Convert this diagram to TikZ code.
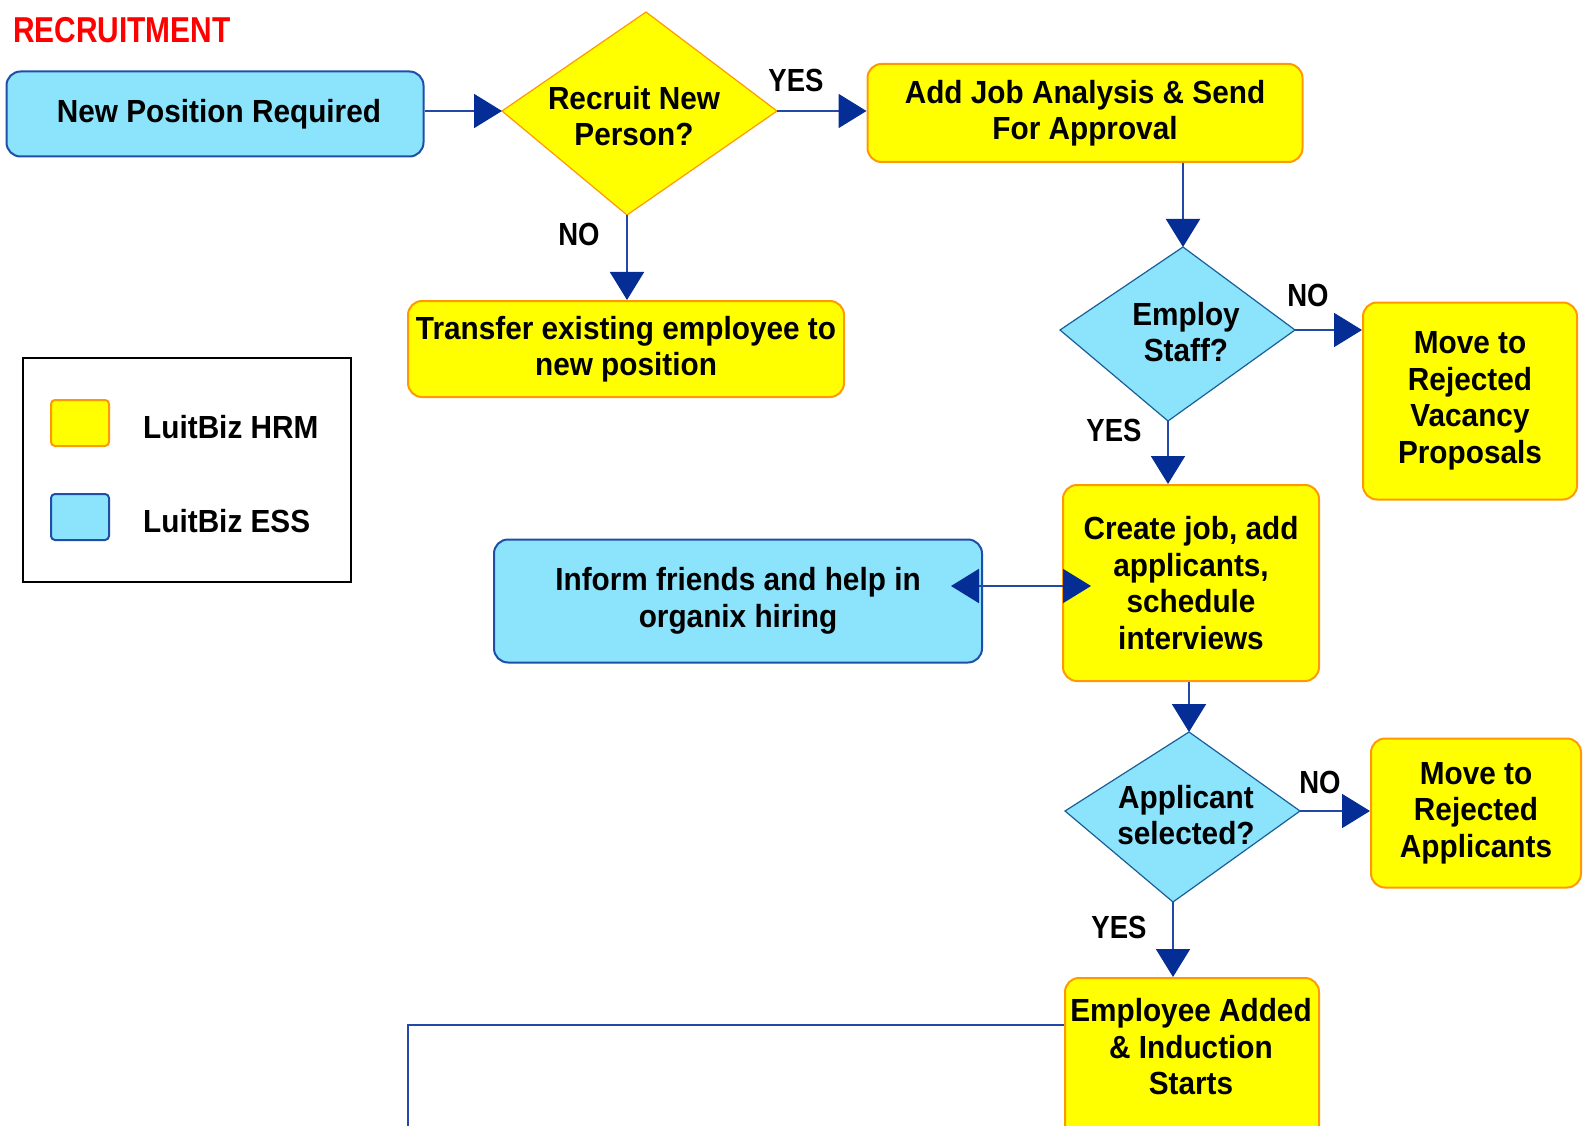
\documentclass[tikz,border=0pt]{standalone}
\usepackage{fontspec}
\setmainfont{Liberation Sans}[FakeStretch=0.93]
\newfontfamily\titlefont{Liberation Sans}[FakeStretch=0.83]
\newfontfamily\answerfont{Liberation Sans}[FakeStretch=0.86]
\usetikzlibrary{arrows.meta,calc}
\definecolor{hrmfill}{RGB}{255,255,0}
\definecolor{hrmline}{RGB}{255,153,0}
\definecolor{essfill}{RGB}{140,227,252}
\definecolor{essline}{RGB}{30,78,168}
\definecolor{decline}{RGB}{25,95,150}
\definecolor{flowline}{RGB}{35,72,168}
\definecolor{flowhead}{RGB}{5,45,150}
\tikzset{
  hrm/.style={draw=hrmline,fill=hrmfill,line width=2pt,rounded corners=14pt,align=center,inner sep=0pt},
  ess/.style={draw=essline,fill=essfill,line width=2pt,rounded corners=14pt,align=center,inner sep=0pt},
  hrmdec/.style={draw=hrmline,fill=hrmfill,line width=1.2pt},
  essdec/.style={draw=decline,fill=essfill,line width=1.2pt},
  flowtip/.tip={Triangle[length=28pt,width=34pt,color=flowhead]},
  flow/.style={draw=flowline,line width=2pt,-flowtip},
  dflow/.style={draw=flowline,line width=2pt,flowtip-flowtip},
  answer/.style={font=\answerfont\bfseries\fontsize{32}{36}\selectfont},
}
\begin{document}
\begin{tikzpicture}[x=1pt,y=-1pt,font=\bfseries\fontsize{32}{36.5}\selectfont]
  \useasboundingbox (0,0) rectangle (1583,1126);
  \clip (0,0) rectangle (1583,1126);
  \node[anchor=base west,inner sep=0pt,text=red,font=\titlefont\bfseries\fontsize{36}{40}\selectfont] (title) at (13,43) {RECRUITMENT};

  % boxes
  \node[ess,minimum width=417pt,minimum height=85pt] (np) at (215,114) {\hspace*{8pt}New Position Required};
  \node[hrm,minimum width=435pt,minimum height=98pt] (aj) at (1085,113) {Add Job Analysis \& Send\\For Approval};
  \node[hrm,minimum width=436pt,minimum height=96pt] (tf) at (626,349) {Transfer existing employee to\\new position};
  \node[hrm,minimum width=214pt,minimum height=197pt] (mv) at (1470,401) {Move to\\Rejected\\Vacancy\\Proposals};
  \node[ess,minimum width=488pt,minimum height=123pt] (inf) at (738,601) {Inform friends and help in\\organix hiring};
  \node[hrm,minimum width=256pt,minimum height=196pt] (cj) at (1191,583) {Create job, add\\applicants,\\schedule\\interviews};
  \node[hrm,minimum width=210pt,minimum height=149pt] (ra) at (1476,813) {Move to\\Rejected\\Applicants};
  \node[hrm,minimum width=254pt,minimum height=180pt,anchor=north] (ea) at (1192,977) {};
  \node[align=center,inner sep=0pt] (eatext) at (1191,1047) {Employee Added\\\& Induction\\Starts};

  % decisions
  \filldraw[hrmdec] (502,111) coordinate (rn-w) -- (646,12) coordinate (rn-n)
    -- (777,111) coordinate (rn-e) -- (627,215) coordinate (rn-s) -- cycle;
  \node[align=center,inner sep=0pt] (rn) at (634,116) {Recruit New\\Person?};
  \filldraw[essdec] (1060,330) coordinate (es-w) -- (1183,247) coordinate (es-n)
    -- (1295,330) coordinate (es-e) -- (1168,421) coordinate (es-s) -- cycle;
  \node[align=center,inner sep=0pt] (es) at (1186,332) {Employ\\Staff?};
  \filldraw[essdec] (1065,811) coordinate (ap-w) -- (1189,732) coordinate (ap-n)
    -- (1300,811) coordinate (ap-e) -- (1173,902) coordinate (ap-s) -- cycle;
  \node[align=center,inner sep=0pt] (ap) at (1186,815) {Applicant\\selected?};

  % connectors
  \draw[flow] (np.east |- rn-w) -- (rn-w);
  \draw[flow] (rn-e) -- (rn-e -| aj.west);
  \draw[flow] (rn-s) -- (rn-s |- tf.north);
  \draw[flow] (es-n |- aj.south) -- (es-n);
  \draw[flow] (es-e) -- (es-e -| mv.west);
  \draw[flow] (es-s) -- (es-s |- cj.north);
  \draw[dflow] ($(inf.east |- cj.west)+(-32,3)$) -- ($(cj.west)+(29,3)$);
  \draw[flow] (ap-n |- cj.south) -- (ap-n);
  \draw[flow] (ap-e) -- (ap-e -| ra.west);
  \draw[flow] (ap-s) -- (ap-s |- ea.north);
  \coordinate (cont) at (408,1140);
  \draw[draw=flowline,line width=2pt] (ea.north west) ++(0,48) -| (cont);

  % answers
  \node[answer] (yes1) at (796,80) {YES};
  \node[answer] (no1) at (579,234) {NO};
  \node[answer] (no2) at (1308,295) {NO};
  \node[answer] (yes2) at (1114,430) {YES};
  \node[answer] (no3) at (1320,782) {NO};
  \node[answer] (yes3) at (1119,927) {YES};

  % legend
  \node[draw,line width=1.6pt,minimum width=328pt,minimum height=224pt] (legend) at (187,470) {};
  \foreach \kind/\ypos/\txt in {hrm/423/LuitBiz HRM,ess/517/LuitBiz ESS}{
    \node[\kind,rounded corners=4pt,minimum width=58pt,minimum height=46pt] (key-\kind) at (80,\ypos) {};
    \node[anchor=west,inner sep=0pt] (lbl-\kind) at (143,\ypos+4) {\txt};
  }
\end{tikzpicture}
\end{document}
